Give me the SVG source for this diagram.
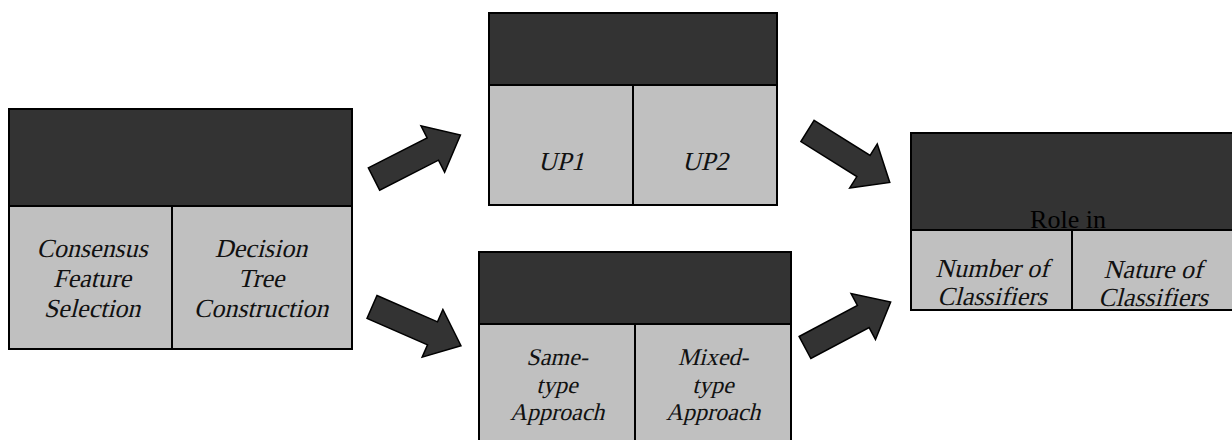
<svg xmlns="http://www.w3.org/2000/svg" width="1232" height="440" viewBox="0 0 1232 440">
  <defs>
    <style>
      .hdr { fill: #333333; stroke: #000; stroke-width: 2; }
      .cell { fill: #c0c0c0; stroke: #000; stroke-width: 2; }
      /* slanted serif labels: upright face sheared into an oblique */
      .lbl { font-family: "Liberation Serif", serif; font-size: 26px; fill: #111; text-anchor: middle; }
      .lbl.sm { font-size: 24px; }
      .plain { font-family: "Liberation Serif", serif; font-size: 26px; fill: #000; text-anchor: middle; }
      .arrow { fill: #333333; stroke: #000; stroke-width: 1.5; stroke-linejoin: miter; }
    </style>
    <!-- block arrow pointing along +x, tail centred on the origin -->
    <path id="blockArrow" d="M0,-12.5 L66,-12.5 L66,-26 L97,0 L66,26 L66,12.5 L0,12.5 Z"/>
  </defs>

  <rect width="1232" height="440" fill="#fff"/>

  <!-- left block -->
  <g id="node-left">
    <rect class="hdr" x="9" y="109" width="343" height="97"/>
    <rect class="cell" x="9" y="206" width="163" height="143"/>
    <rect class="cell" x="172" y="206" width="180" height="143"/>
    <text class="lbl" transform="translate(92,257) skewX(-14)">Consensus</text>
    <text class="lbl" transform="translate(92,287) skewX(-14)">Feature</text>
    <text class="lbl" transform="translate(92,317) skewX(-14)">Selection</text>
    <text class="lbl" transform="translate(261,257) skewX(-14)">Decision</text>
    <text class="lbl" transform="translate(261,287) skewX(-14)">Tree</text>
    <text class="lbl" transform="translate(261,317) skewX(-14)">Construction</text>
  </g>

  <!-- top middle block -->
  <g id="node-top">
    <rect class="hdr" x="489" y="13" width="288" height="72"/>
    <rect class="cell" x="489" y="85" width="144" height="120"/>
    <rect class="cell" x="633" y="85" width="144" height="120"/>
    <text class="lbl" transform="translate(561,170) skewX(-14)">UP1</text>
    <text class="lbl" transform="translate(705,170) skewX(-14)">UP2</text>
  </g>

  <!-- bottom middle block -->
  <g id="node-bottom">
    <rect class="hdr" x="479" y="252" width="312" height="72"/>
    <rect class="cell" x="479" y="324" width="156" height="130"/>
    <rect class="cell" x="635" y="324" width="156" height="130"/>
    <text class="lbl sm" transform="translate(557,365) skewX(-14)">Same-</text>
    <text class="lbl sm" transform="translate(557,393) skewX(-14)">type</text>
    <text class="lbl sm" transform="translate(557,420) skewX(-14)">Approach</text>
    <text class="lbl sm" transform="translate(713,365) skewX(-14)">Mixed-</text>
    <text class="lbl sm" transform="translate(713,393) skewX(-14)">type</text>
    <text class="lbl sm" transform="translate(713,420) skewX(-14)">Approach</text>
  </g>

  <!-- right block -->
  <g id="node-right">
    <rect class="hdr" x="911" y="133" width="330" height="97"/>
    <rect class="cell" x="911" y="230" width="161" height="80"/>
    <rect class="cell" x="1072" y="230" width="169" height="80"/>
    <text class="plain" x="1068" y="228">Role in</text>
    <text class="lbl" transform="translate(992,277) skewX(-14)">Number of</text>
    <text class="lbl" transform="translate(992,305) skewX(-14)">Classifiers</text>
    <text class="lbl" transform="translate(1153,278) skewX(-14)">Nature of</text>
    <text class="lbl" transform="translate(1153,306) skewX(-14)">Classifiers</text>
  </g>

  <!-- connectors -->
  <g id="connectors">
    <use href="#blockArrow" class="arrow" transform="translate(374,179) rotate(-27)"/>
    <use href="#blockArrow" class="arrow" transform="translate(372,307) rotate(23.5)"/>
    <use href="#blockArrow" class="arrow" transform="translate(807.5,131) rotate(32)"/>
    <use href="#blockArrow" class="arrow" transform="translate(805,347.5) rotate(-28)"/>
  </g>
</svg>
